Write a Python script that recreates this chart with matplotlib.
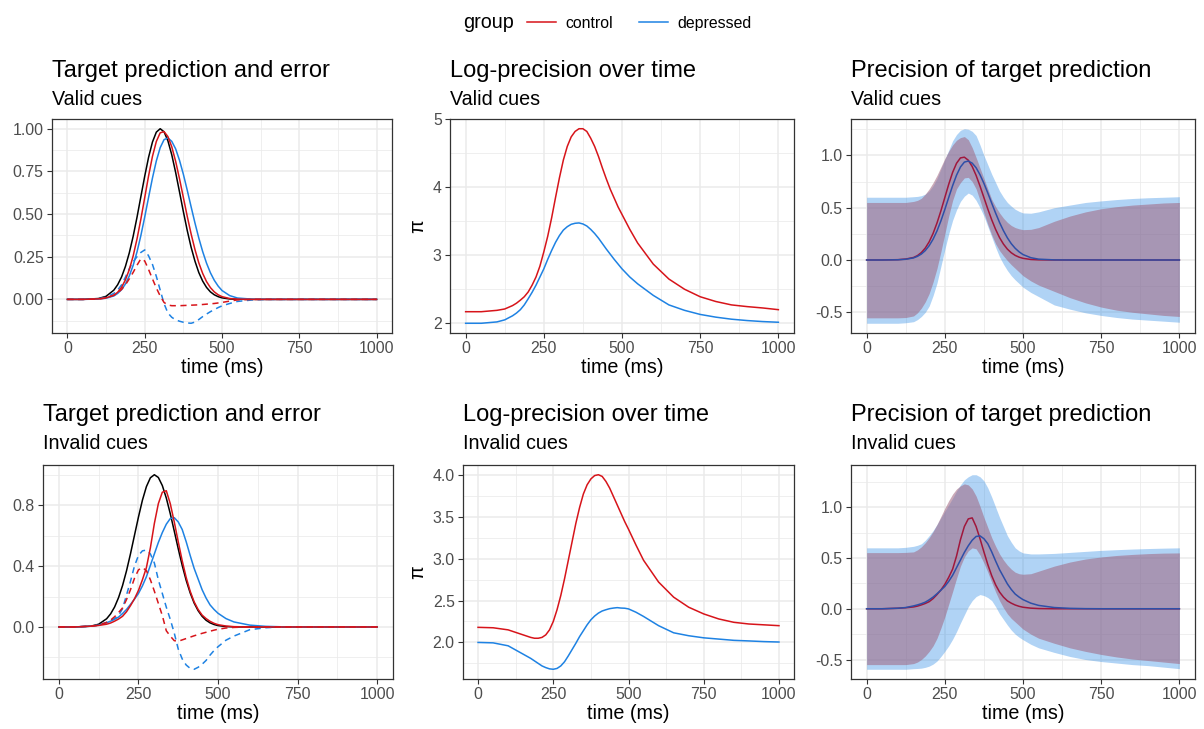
import matplotlib
matplotlib.use("Agg")
import matplotlib.pyplot as plt
from matplotlib.ticker import MultipleLocator, AutoMinorLocator, FormatStrFormatter
from matplotlib.lines import Line2D

plt.rcParams['font.family'] = ['Liberation Sans', 'DejaVu Sans']
plt.rcParams['axes.unicode_minus'] = False

# --- Data ---
time_ms = [0, 50, 100, 125,
           150, 162.5, 175, 187.5, 200, 212.5, 225, 237.5, 250, 262.5, 275, 287.5, 300, 312.5, 325, 337.5,
           350, 362.5, 375, 387.5, 400, 412.5, 425, 437.5, 450, 462.5, 475, 487.5, 500,
           525, 550, 600, 650, 700, 750, 800, 850, 900, 950, 1000]

# target (black), same for both cue types
target = [0, 0, 0.005, 0.018,
          0.054, 0.086, 0.131, 0.193, 0.272, 0.369, 0.481, 0.602, 0.722, 0.833, 0.922, 0.980, 1.0, 0.982, 0.929, 0.847,
          0.744, 0.630, 0.514, 0.404, 0.306, 0.224, 0.157, 0.107, 0.070, 0.044, 0.027, 0.016, 0.009,
          0.0025, 0.0006, 0, 0, 0, 0, 0, 0, 0, 0, 0]

# valid cues: prediction (solid) and prediction error (dashed)
valid_pred_control = [0, 0, 0.003, 0.009,
                      0.024, 0.042, 0.071, 0.114, 0.174, 0.254, 0.354, 0.47, 0.597, 0.724, 0.838, 0.925, 0.976, 0.983, 0.954, 0.894,
                      0.809, 0.707, 0.597, 0.487, 0.384, 0.292, 0.214, 0.152, 0.104, 0.069, 0.044, 0.027, 0.016,
                      0.005, 0.0015, 0, 0, 0, 0, 0, 0, 0, 0, 0]
valid_pred_depressed = [0, 0, 0.002, 0.007,
                        0.020, 0.035, 0.057, 0.090, 0.137, 0.199, 0.278, 0.374, 0.483, 0.598, 0.711, 0.811, 0.889, 0.936, 0.946, 0.926,
                        0.882, 0.815, 0.733, 0.640, 0.543, 0.448, 0.359, 0.280, 0.212, 0.156, 0.112, 0.078, 0.052,
                        0.022, 0.008, 0.001, 0, 0, 0, 0, 0, 0, 0, 0]
valid_err_control = [0, 0, 0.002, 0.008,
                     0.025, 0.038, 0.058, 0.085, 0.12, 0.158, 0.2, 0.238, 0.225, 0.175, 0.12, 0.067, 0.02, -0.018, -0.033, -0.037,
                     -0.037, -0.037, -0.036, -0.035, -0.034, -0.033, -0.032, -0.03, -0.028, -0.026, -0.024, -0.021, -0.018,
                     -0.01, -0.003, 0, 0, 0, 0, 0, 0, 0, 0, 0]
valid_err_depressed = [0, 0, 0.004, 0.013,
                       0.035, 0.055, 0.085, 0.13, 0.18, 0.22, 0.25, 0.275, 0.29, 0.255, 0.205, 0.135, 0.055, -0.025, -0.08, -0.105,
                       -0.12, -0.128, -0.134, -0.138, -0.14, -0.133, -0.118, -0.101, -0.086, -0.072, -0.06, -0.048, -0.038,
                       -0.024, -0.012, -0.003, 0, 0, 0, 0, 0, 0, 0, 0]

# invalid cues: prediction (solid) and prediction error (dashed)
invalid_pred_control = [0, 0, 0.005, 0.01,
                        0.018, 0.026, 0.038, 0.052, 0.07, 0.1, 0.14, 0.185, 0.24, 0.31, 0.39, 0.52, 0.68, 0.81, 0.885, 0.895,
                        0.81, 0.69, 0.56, 0.435, 0.325, 0.235, 0.165, 0.115, 0.078, 0.055, 0.037, 0.024, 0.015,
                        0.006, 0.002, 0, 0, 0, 0, 0, 0, 0, 0, 0]
invalid_pred_depressed = [0, 0, 0.005, 0.012,
                          0.028, 0.038, 0.05, 0.065, 0.088, 0.115, 0.148, 0.183, 0.22, 0.27, 0.33, 0.405, 0.48, 0.555, 0.62, 0.675,
                          0.712, 0.718, 0.69, 0.64, 0.56, 0.47, 0.385, 0.315, 0.245, 0.19, 0.145, 0.115, 0.09,
                          0.055, 0.033, 0.012, 0.004, 0.001, 0, 0, 0, 0, 0, 0]
invalid_err_control = [0, 0, 0.005, 0.012,
                       0.03, 0.045, 0.067, 0.095, 0.125, 0.18, 0.245, 0.32, 0.375, 0.39, 0.37, 0.31, 0.235, 0.155, 0.075, -0.025,
                       -0.06, -0.09, -0.094, -0.085, -0.076, -0.067, -0.058, -0.05, -0.042, -0.035, -0.028, -0.021, -0.015,
                       -0.007, -0.003, 0, 0, 0, 0, 0, 0, 0, 0, 0]
invalid_err_depressed = [0, 0, 0.005, 0.012,
                         0.03, 0.04, 0.055, 0.075, 0.12, 0.21, 0.3, 0.4, 0.47, 0.5, 0.505, 0.48, 0.42, 0.31, 0.22, 0.13,
                         0.05, -0.04, -0.145, -0.21, -0.25, -0.272, -0.278, -0.265, -0.245, -0.22, -0.185, -0.155, -0.13,
                         -0.087, -0.06, -0.018, -0.005, 0, 0, 0, 0, 0, 0, 0]

# log-precision (pi)
valid_pi_control = [2.17, 2.17, 2.19, 2.21,
                    2.26, 2.295, 2.34, 2.39, 2.46, 2.56, 2.68, 2.84, 3.05, 3.28, 3.55, 3.85, 4.14, 4.4, 4.6, 4.74,
                    4.82, 4.86, 4.86, 4.82, 4.72, 4.6, 4.45, 4.28, 4.12, 3.97, 3.84, 3.71, 3.6,
                    3.38, 3.18, 2.87, 2.65, 2.5, 2.39, 2.32, 2.27, 2.245, 2.225, 2.2]
valid_pi_depressed = [2.0, 2.0, 2.02, 2.05,
                      2.11, 2.15, 2.2, 2.27, 2.36, 2.455, 2.56, 2.68, 2.8, 2.94, 3.07, 3.19, 3.29, 3.37, 3.42, 3.455,
                      3.47, 3.475, 3.46, 3.43, 3.38, 3.32, 3.25, 3.17, 3.09, 3.015, 2.94, 2.87, 2.8,
                      2.68, 2.58, 2.41, 2.27, 2.19, 2.13, 2.09, 2.06, 2.04, 2.025, 2.015]
invalid_pi_control = [2.18, 2.175, 2.15, 2.12,
                      2.09, 2.075, 2.06, 2.05, 2.05, 2.06, 2.09, 2.15, 2.25, 2.39, 2.56, 2.76, 2.98, 3.2, 3.42, 3.61,
                      3.77, 3.88, 3.95, 3.99, 4.0, 3.98, 3.92, 3.84, 3.74, 3.64, 3.54, 3.44, 3.35,
                      3.16, 2.98, 2.72, 2.54, 2.42, 2.34, 2.28, 2.24, 2.22, 2.21, 2.2]
invalid_pi_depressed = [2.0, 1.995, 1.96, 1.91,
                        1.86, 1.835, 1.81, 1.78, 1.75, 1.72, 1.70, 1.685, 1.68, 1.69, 1.72, 1.77, 1.84, 1.915, 1.99, 2.07,
                        2.14, 2.21, 2.27, 2.315, 2.35, 2.375, 2.39, 2.403, 2.41, 2.415, 2.41, 2.408, 2.4,
                        2.36, 2.31, 2.2, 2.115, 2.08, 2.055, 2.04, 2.025, 2.018, 2.01, 2.005]

# precision bands around the prediction
valid_band_control_lo = [-0.553, -0.553, -0.553, -0.55,
                         -0.535, -0.505, -0.46, -0.4, -0.32, -0.21, -0.08, 0.08, 0.25, 0.42, 0.57, 0.68, 0.74, 0.785, 0.79, 0.75,
                         0.68, 0.57, 0.45, 0.34, 0.24, 0.155, 0.09, 0.04, -0.005, -0.045, -0.08, -0.115, -0.15,
                         -0.2, -0.24, -0.3, -0.36, -0.41, -0.45, -0.48, -0.5, -0.515, -0.53, -0.54]
valid_band_control_hi = [0.55, 0.55, 0.55, 0.55,
                         0.56, 0.57, 0.59, 0.63, 0.68, 0.74, 0.81, 0.89, 0.97, 1.04, 1.1, 1.145, 1.17, 1.18, 1.15, 1.075,
                         0.98, 0.88, 0.78, 0.68, 0.58, 0.51, 0.45, 0.4, 0.36, 0.33, 0.31, 0.298, 0.29,
                         0.293, 0.31, 0.37, 0.42, 0.46, 0.49, 0.51, 0.525, 0.535, 0.545, 0.55]
valid_band_depressed_lo = [-0.605, -0.605, -0.605, -0.6,
                           -0.59, -0.57, -0.54, -0.5, -0.44, -0.34, -0.22, -0.06, 0.1, 0.25, 0.38, 0.48, 0.56, 0.61, 0.64, 0.62,
                           0.57, 0.5, 0.42, 0.32, 0.22, 0.12, 0.03, -0.04, -0.1, -0.15, -0.19, -0.225, -0.26,
                           -0.31, -0.35, -0.43, -0.47, -0.505, -0.53, -0.55, -0.565, -0.575, -0.585, -0.595]
valid_band_depressed_hi = [0.6, 0.6, 0.6, 0.6,
                           0.605, 0.608, 0.615, 0.63, 0.66, 0.71, 0.78, 0.87, 0.96, 1.05, 1.14, 1.2, 1.24, 1.255, 1.25, 1.23,
                           1.19, 1.1, 1.0, 0.91, 0.82, 0.74, 0.66, 0.6, 0.55, 0.515, 0.485, 0.465, 0.45,
                           0.447, 0.46, 0.5, 0.525, 0.55, 0.565, 0.578, 0.588, 0.595, 0.6, 0.605]
invalid_band_control_lo = [-0.55, -0.55, -0.55, -0.55,
                           -0.54, -0.525, -0.5, -0.465, -0.42, -0.365, -0.29, -0.19, -0.08, 0.045, 0.17, 0.3, 0.42, 0.51, 0.57, 0.6,
                           0.59, 0.53, 0.45, 0.36, 0.26, 0.165, 0.08, 0.01, -0.05, -0.095, -0.13, -0.165, -0.2,
                           -0.25, -0.29, -0.34, -0.385, -0.42, -0.45, -0.475, -0.495, -0.51, -0.525, -0.54]
invalid_band_control_hi = [0.553, 0.553, 0.553, 0.555,
                           0.56, 0.58, 0.61, 0.65, 0.7, 0.76, 0.83, 0.91, 0.99, 1.065, 1.13, 1.18, 1.21, 1.23, 1.22, 1.18,
                           1.11, 1.01, 0.9, 0.8, 0.7, 0.615, 0.54, 0.48, 0.43, 0.39, 0.36, 0.345, 0.34,
                           0.345, 0.37, 0.42, 0.46, 0.49, 0.51, 0.525, 0.535, 0.543, 0.548, 0.55]
invalid_band_depressed_lo = [-0.596, -0.596, -0.596, -0.596,
                             -0.59, -0.588, -0.585, -0.577, -0.565, -0.545, -0.515, -0.47, -0.42, -0.365, -0.3, -0.225, -0.14, -0.06, 0.02, 0.08,
                             0.12, 0.14, 0.13, 0.11, 0.08, 0.02, -0.05, -0.105, -0.16, -0.21, -0.25, -0.28, -0.305,
                             -0.35, -0.385, -0.43, -0.47, -0.5, -0.52, -0.535, -0.55, -0.56, -0.575, -0.59]
invalid_band_depressed_hi = [0.6, 0.6, 0.6, 0.605,
                             0.615, 0.625, 0.64, 0.675, 0.72, 0.77, 0.83, 0.895, 0.96, 1.025, 1.09, 1.16, 1.22, 1.27, 1.3, 1.32,
                             1.32, 1.3, 1.26, 1.19, 1.1, 1.0, 0.9, 0.81, 0.72, 0.655, 0.6, 0.57, 0.55,
                             0.54, 0.54, 0.545, 0.555, 0.565, 0.575, 0.582, 0.588, 0.593, 0.597, 0.6]

# --- Style ---
RED = '#D7141A'
BLUE = '#1E82E3'
RED_DARK = '#A0173C'
BLUE_DARK = '#2E4FA8'
W, H = 1204, 729
LW = 1.1
DASH = (4, 3)

fig = plt.figure(figsize=(W / 100, H / 100), dpi=100)


def add_panel(left, top, right, bottom):
    return fig.add_axes([left / W, 1 - bottom / H, (right - left) / W, (bottom - top) / H])


def style(ax, ystep, yfmt):
    for sp in ax.spines.values():
        sp.set_color('#333333')
        sp.set_linewidth(0.9)
    ax.xaxis.set_major_locator(MultipleLocator(250))
    ax.xaxis.set_minor_locator(AutoMinorLocator(2))
    ax.yaxis.set_major_locator(MultipleLocator(ystep))
    ax.yaxis.set_minor_locator(AutoMinorLocator(2))
    ax.yaxis.set_major_formatter(FormatStrFormatter(yfmt))
    ax.grid(which='major', color='#EBEBEB', lw=1.1)
    ax.grid(which='minor', color='#EBEBEB', lw=0.55)
    ax.set_axisbelow(True)
    ax.tick_params(which='major', length=3.5, width=0.8, color='#333333',
                   labelsize=11.4, labelcolor='#4D4D4D', pad=2.5)
    ax.tick_params(which='minor', length=0)
    ax.set_xlabel('time (ms)', fontsize=14.2, labelpad=1.5)


def titles(x, top_base, title, subtitle):
    fig.text(x / W, 1 - top_base / H, title, fontsize=17, va='baseline')
    fig.text(x / W, 1 - (top_base + 28.5) / H, subtitle, fontsize=14.2, va='baseline')


rows = [
    dict(top=119, bottom=333, title_base=76.5, sub='Valid cues',
         p1=(52, 392), p2=(450, 794), p3=(851, 1195),
         pred_c=valid_pred_control, pred_d=valid_pred_depressed,
         err_c=valid_err_control, err_d=valid_err_depressed,
         pi_c=valid_pi_control, pi_d=valid_pi_depressed,
         bc=(valid_band_control_lo, valid_band_control_hi),
         bd=(valid_band_depressed_lo, valid_band_depressed_hi),
         y1=(0.25, '%.2f'), y2=(1, '%d')),
    dict(top=465, bottom=679, title_base=420.5, sub='Invalid cues',
         p1=(43, 393), p2=(463, 794), p3=(851, 1195),
         pred_c=invalid_pred_control, pred_d=invalid_pred_depressed,
         err_c=invalid_err_control, err_d=invalid_err_depressed,
         pi_c=invalid_pi_control, pi_d=invalid_pi_depressed,
         bc=(invalid_band_control_lo, invalid_band_control_hi),
         bd=(invalid_band_depressed_lo, invalid_band_depressed_hi),
         y1=(0.4, '%.1f'), y2=(0.5, '%.1f')),
]

for r in rows:
    # prediction and error
    ax = add_panel(r['p1'][0], r['top'], r['p1'][1], r['bottom'])
    ax.plot(time_ms, target, color='black', lw=LW)
    ax.plot(time_ms, r['pred_d'], color=BLUE, lw=LW)
    ax.plot(time_ms, r['err_d'], color=BLUE, lw=LW, dashes=DASH)
    ax.plot(time_ms, r['pred_c'], color=RED, lw=LW)
    ax.plot(time_ms, r['err_c'], color=RED, lw=LW, dashes=DASH)
    style(ax, *r['y1'])
    titles(r['p1'][0], r['title_base'], 'Target prediction and error', r['sub'])

    # log-precision
    ax = add_panel(r['p2'][0], r['top'], r['p2'][1], r['bottom'])
    ax.plot(time_ms, r['pi_c'], color=RED, lw=LW)
    ax.plot(time_ms, r['pi_d'], color=BLUE, lw=LW)
    style(ax, *r['y2'])
    ax.set_ylabel('\u03c0', fontsize=14.2, labelpad=4)
    titles(r['p2'][0], r['title_base'], 'Log-precision over time', r['sub'])

    # precision of target prediction
    ax = add_panel(r['p3'][0], r['top'], r['p3'][1], r['bottom'])
    ax.fill_between(time_ms, r['bd'][0], r['bd'][1], color=BLUE, alpha=0.35, lw=0)
    ax.fill_between(time_ms, r['bc'][0], r['bc'][1], color='#A0647F', alpha=0.55, lw=0)
    ax.plot(time_ms, r['pred_c'], color=RED_DARK, lw=LW)
    ax.plot(time_ms, r['pred_d'], color=BLUE_DARK, lw=LW)
    style(ax, 0.5, '%.1f')
    titles(r['p3'][0], r['title_base'], 'Precision of target prediction', r['sub'])

# legend on top
fig.text(463 / W, 1 - 22 / H, 'group', fontsize=14.2, va='center')
handles = [Line2D([], [], color=RED, lw=LW), Line2D([], [], color=BLUE, lw=LW)]
fig.legend(handles, ['control', 'depressed'], ncol=2, frameon=False, fontsize=11.4,
           loc='center left', bbox_to_anchor=(527 / W, 1 - 23.5 / H),
           handlelength=1.85, handletextpad=0.6, columnspacing=1.6,
           borderpad=0, borderaxespad=0)

fig.savefig('out.png', dpi=100)
